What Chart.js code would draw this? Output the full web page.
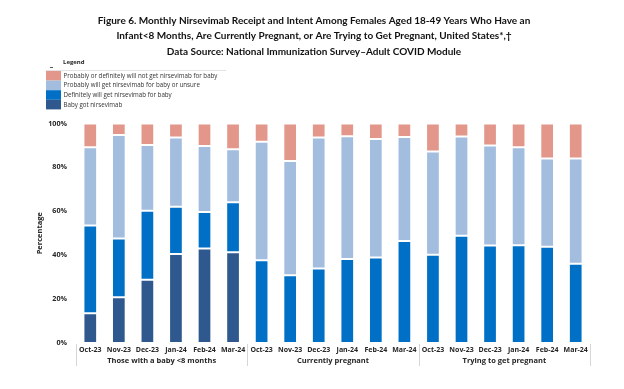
<!DOCTYPE html>
<html>
<head>
<meta charset="utf-8">
<script src="https://cdn.jsdelivr.net/npm/chart.js@4/dist/chart.umd.min.js"></script>
<style>
  html, body { margin: 0; padding: 0; background: #fff; }
  #wrap { width: 624px; height: 389px; position: relative; }
</style>
</head>
<body>
<div id="wrap"><canvas id="c" width="624" height="389"></canvas></div>
<script>
// ---- Data ----
const titleLines = [
  'Figure 6. Monthly Nirsevimab Receipt and Intent Among Females Aged 18-49 Years Who Have an',
  'Infant<8 Months, Are Currently Pregnant, or Are Trying to Get Pregnant, United States*,\u2020',
  'Data Source: National Immunization Survey\u2013Adult COVID Module'
];
const months = ['Oct-23', 'Nov-23', 'Dec-23', 'Jan-24', 'Feb-24', 'Mar-24'];
const groups = ['Those with a baby <8 months', 'Currently pregnant', 'Trying to get pregnant'];
const categories = groups.flatMap(() => months);

const babyGot     = [13.6, 20.8, 28.8, 40.6, 43.0, 41.4,  null, null, null, null, null, null,  null, null, null, null, null, null];
const definitely  = [39.9, 26.8, 31.4, 21.5, 16.7, 22.7,  37.7, 30.9, 33.9, 38.3, 38.9, 46.5,  40.2, 48.9, 44.4, 44.5, 43.9, 36.1];
const probably    = [35.7, 47.2, 30.0, 31.5, 30.0, 24.2,  54.0, 52.0, 59.7, 55.9, 54.0, 47.4,  47.1, 45.2, 45.6, 44.7, 40.2, 48.0];
const notGet      = [10.8,  5.2,  9.8,  6.4, 10.3, 11.7,   8.3, 17.1,  6.4,  5.8,  7.1,  6.1,  12.7,  5.9, 10.0, 10.8, 15.9, 15.9];

const yTicks = [0, 20, 40, 60, 80, 100];
const seriesLabels = [
  'Baby got nirsevimab',
  'Definitely will get nirsevimab for baby',
  'Probably will get nirsevimab for baby or unsure',
  'Probably or definitely will not get nirsevimab for baby'
];
const seriesColors = ['#2F588F', '#0070C6', '#A3BDDF', '#E2978A'];

const FONT = '"Open Sans", "Noto Sans", sans-serif';
const TEXT = '#262626';

// ---- Plugins ----
const groupAxisPlugin = {
  id: 'groupAxis',
  afterDraw(chart) {
    const { ctx, chartArea, scales: { x } } = chart;
    const step = x.getPixelForValue(1) - x.getPixelForValue(0);
    ctx.save();
    ctx.strokeStyle = '#d6d6d6';
    ctx.lineWidth = 1;
    for (let g = 0; g <= groups.length; g++) {
      const idx = g * months.length;
      const px = Math.round(x.getPixelForValue(idx) - step / 2) + 0.5;
      ctx.beginPath();
      ctx.moveTo(px, chartArea.bottom + 1);
      ctx.lineTo(px, chartArea.bottom + 23);
      ctx.stroke();
    }
    ctx.fillStyle = TEXT;
    ctx.font = 'bold 7.5px ' + FONT;
    ctx.textAlign = 'center';
    ctx.textBaseline = 'middle';
    groups.forEach((name, g) => {
      const a = x.getPixelForValue(g * months.length);
      const b = x.getPixelForValue(g * months.length + months.length - 1);
      ctx.fillText(name, (a + b) / 2, chartArea.bottom + 18);
    });
    ctx.restore();
  }
};

const legendPlugin = {
  id: 'customLegend',
  afterDraw(chart) {
    const { ctx } = chart;
    ctx.save();
    ctx.fillStyle = TEXT;
    ctx.font = 'bold 6px ' + FONT;
    ctx.textBaseline = 'middle';
    ctx.textAlign = 'left';
    ctx.fillText('Legend', 63, 62);
    ctx.fillStyle = '#555';
    ctx.fillRect(50, 67, 3, 1);
    ctx.strokeStyle = '#e3e3e3';
    ctx.lineWidth = 1;
    ctx.beginPath();
    ctx.moveTo(46, 70.5);
    ctx.lineTo(226, 70.5);
    ctx.stroke();
    const ds = chart.data.datasets.slice().reverse();
    const rowH = 9.6;
    ds.forEach((d, i) => {
      const top = 71 + i * rowH;
      ctx.fillStyle = d.backgroundColor;
      ctx.fillRect(46, top, 15, rowH);
      ctx.fillStyle = '#333';
      ctx.font = '6.2px ' + FONT;
      ctx.fillText(d.label, 63.5, top + rowH / 2 + 0.3);
    });
    ctx.restore();
  }
};

const datasets = [babyGot, definitely, probably, notGet].map((vals, i) => ({
  label: seriesLabels[i],
  data: vals,
  backgroundColor: seriesColors[i],
  borderColor: 'rgba(255,255,255,0.35)',
  borderWidth: 1,
  borderSkipped: false,
  barPercentage: 0.48,
  categoryPercentage: 1.0
}));

new Chart(document.getElementById('c'), {
  type: 'bar',
  data: { labels: categories, datasets },
  plugins: [groupAxisPlugin, legendPlugin],
  options: {
    responsive: false,
    animation: false,
    devicePixelRatio: 1,
    layout: { padding: { left: 4, right: 0, top: 0, bottom: 0 } },
    plugins: {
      legend: { display: false },
      tooltip: { enabled: false },
      title: {
        display: true,
        text: titleLines,
        color: '#111',
        font: { family: 'Lato, "Open Sans", sans-serif', size: 10, weight: 'bold', lineHeight: 1.55 },
        padding: { top: 13, bottom: 64 }
      }
    },
    scales: {
      x: {
        stacked: true,
        grid: { display: false, drawTicks: false },
        border: { display: false },
        ticks: {
          color: TEXT,
          font: { family: FONT, size: 7, weight: 'bold' },
          padding: 3,
          maxRotation: 0,
          autoSkip: false
        },
        afterFit(scale) { scale.height = 46; }
      },
      y: {
        stacked: true,
        min: 0,
        max: 100,
        grid: { display: false, drawTicks: false },
        border: { display: false },
        afterBuildTicks(scale) { scale.ticks = yTicks.map(v => ({ value: v })); },
        ticks: {
          color: TEXT,
          font: { family: FONT, size: 7.2, weight: 'bold' },
          padding: 9,
          callback: v => v + '%'
        },
        title: {
          display: true,
          text: 'Percentage',
          color: TEXT,
          font: { family: FONT, size: 7.5, weight: 'bold' },
          padding: { top: 31, bottom: 0 }
        },
        afterFit(scale) { scale.width = 72; }
      },
      yRight: {
        position: 'right',
        display: true,
        min: 0,
        max: 100,
        grid: { display: false, drawTicks: false },
        border: { display: false },
        ticks: { display: false },
        afterFit(scale) { scale.width = 34; }
      }
    }
  }
});
</script>
</body>
</html>
